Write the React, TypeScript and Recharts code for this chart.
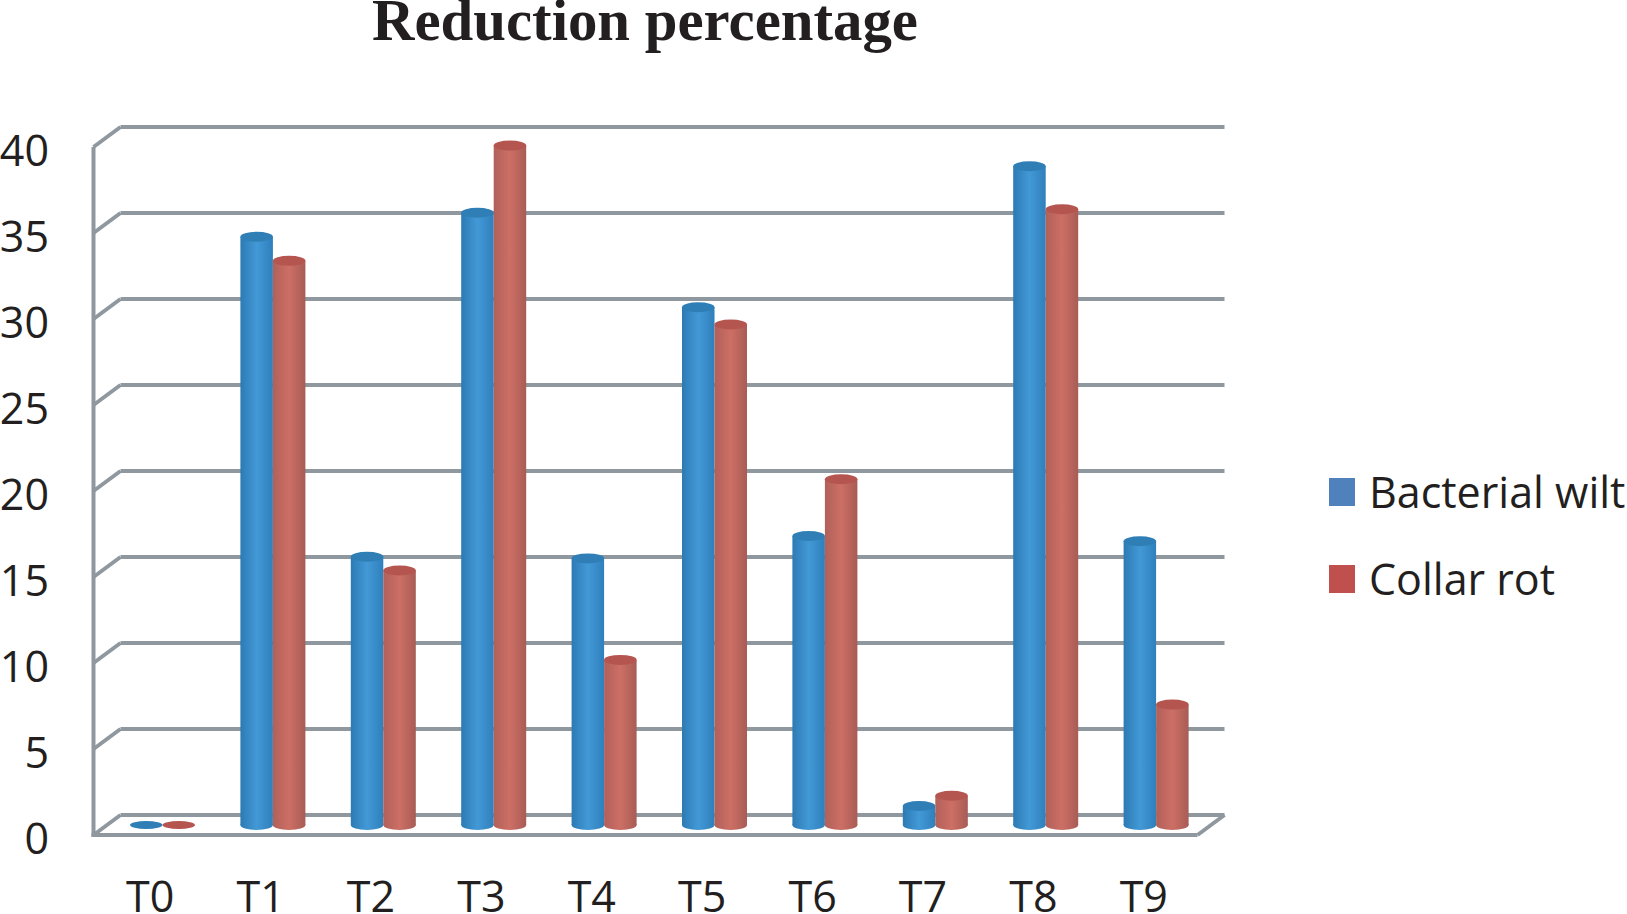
import { BarChart, Bar, XAxis, YAxis, CartesianGrid, Legend } from 'recharts';

const categories = ['T0', 'T1', 'T2', 'T3', 'T4', 'T5', 'T6', 'T7', 'T8', 'T9'];
const bacterialWilt = [0, 34.2, 15.6, 35.6, 15.5, 30.1, 16.8, 1.1, 38.3, 16.5];
const collarRot = [0, 32.8, 14.8, 39.5, 9.6, 29.1, 20.1, 1.7, 35.8, 7];
const yTicks = [0, 5, 10, 15, 20, 25, 30, 35, 40];

const chartData = categories.map((name, i) => ({
  name,
  wilt: bacterialWilt[i],
  rot: collarRot[i],
}));

const GRID = '#8f979f';
const TEXT = '#231f20';
const LABEL_FONT = '"Open Sans", sans-serif';

// the back wall sits behind the bars, the floor edge in front of them
const DEPTH_X = 13.5;
const DEPTH_Y = 10;

function GridLine(props: any) {
  const { x1, x2, y1, index, y, height } = props;
  const isFloor = Math.abs(y1 - (y + height)) < 1;
  const back = y1 - DEPTH_Y;
  const front = y1 + DEPTH_Y;
  return (
    <g key={index} stroke={GRID} strokeWidth={4} fill="none">
      <line x1={x1 + DEPTH_X} y1={back} x2={x2 + DEPTH_X} y2={back} />
      <line x1={x1 - DEPTH_X} y1={front} x2={x1 + DEPTH_X} y2={back} />
      {isFloor && (
        <>
          <line x1={x1 - DEPTH_X} y1={y + DEPTH_Y} x2={x1 - DEPTH_X} y2={front + 2} />
          <line x1={x1 - DEPTH_X - 2} y1={front} x2={x2 - DEPTH_X} y2={front} />
          <line x1={x2 - DEPTH_X} y1={front} x2={x2 + DEPTH_X} y2={back} />
        </>
      )}
    </g>
  );
}

function cylinder(gradient: string, cap: string) {
  return function Cylinder(props: any) {
    const { x, y, width, height } = props;
    const rx = width / 2;
    const ry = 5;
    const cx = x + rx;
    const bottom = y + height;
    if (height < 1) {
      return <ellipse cx={cx} cy={bottom} rx={rx} ry={4} fill={cap} />;
    }
    return (
      <g>
        <ellipse cx={cx} cy={bottom} rx={rx} ry={ry} fill={`url(#${gradient})`} />
        <rect x={x} y={y} width={width} height={height} fill={`url(#${gradient})`} />
        <ellipse cx={cx} cy={y} rx={rx} ry={ry} fill={cap} />
      </g>
    );
  };
}

function XTick({ x, y, payload }: any) {
  return (
    <text x={x - 12} y={y + 79} textAnchor="middle" fontSize={43} fontFamily={LABEL_FONT} fill={TEXT}>
      {payload.value}
    </text>
  );
}

function YTick({ y, payload }: any) {
  return (
    <text x={49} y={y + 29} textAnchor="end" fontSize={43} fontFamily={LABEL_FONT} fill={TEXT}>
      {payload.value}
    </text>
  );
}

function LegendBox() {
  const items = [
    { label: 'Bacterial wilt', color: '#4f81bd' },
    { label: 'Collar rot', color: '#c0504d' },
  ];
  return (
    <div>
      {items.map((item) => (
        <div key={item.label} style={{ display: 'flex', alignItems: 'center', height: 87 }}>
          <div style={{ width: 26, height: 28, background: item.color, marginRight: 14 }} />
          <span style={{ fontSize: 43, fontFamily: LABEL_FONT, color: TEXT, whiteSpace: 'nowrap' }}>{item.label}</span>
        </div>
      ))}
    </div>
  );
}

export default function App() {
  return (
    <div style={{ position: 'absolute', left: 0, top: 0, width: 1627, height: 914, background: '#fff', overflow: 'hidden' }}>
      <div
        style={{
          position: 'absolute',
          left: 372,
          top: 0,
          fontFamily: '"Liberation Serif", serif',
          fontWeight: 700,
          fontSize: 58.8,
          lineHeight: 0.7,
          color: TEXT,
          whiteSpace: 'nowrap',
        }}
      >
        Reduction percentage
      </div>
      <BarChart
        width={1627}
        height={914}
        data={chartData}
        margin={{ top: 137, right: 416, bottom: 0, left: 0 }}
        barSize={32.5}
        barGap={0}
      >
        <defs>
          <linearGradient id="wiltBody" x1="0" y1="0" x2="1" y2="0">
            <stop offset="0" stopColor="#2c7ab4" />
            <stop offset="0.5" stopColor="#4299d6" />
            <stop offset="1" stopColor="#2f80bc" />
          </linearGradient>
          <linearGradient id="rotBody" x1="0" y1="0" x2="1" y2="0">
            <stop offset="0" stopColor="#b0605a" />
            <stop offset="0.5" stopColor="#cd6f65" />
            <stop offset="1" stopColor="#a85c55" />
          </linearGradient>
        </defs>
        <CartesianGrid vertical={false} horizontal={(p: any) => <GridLine {...p} />} />
        <XAxis dataKey="name" height={89} axisLine={false} tickLine={false} tick={<XTick />} interval={0} />
        <YAxis width={107} domain={[0, 40]} ticks={yTicks} axisLine={false} tickLine={false} tick={<YTick />} />
        <Legend
          layout="horizontal"
          align="center"
          verticalAlign="middle"
          content={<LegendBox />}
          wrapperStyle={{ position: 'absolute', left: 1329, top: 448, width: 298 }}
        />
        <Bar dataKey="wilt" name="Bacterial wilt" shape={cylinder('wiltBody', '#2f7fb6')} isAnimationActive={false} />
        <Bar dataKey="rot" name="Collar rot" shape={cylinder('rotBody', '#b5554f')} isAnimationActive={false} />
      </BarChart>
    </div>
  );
}
